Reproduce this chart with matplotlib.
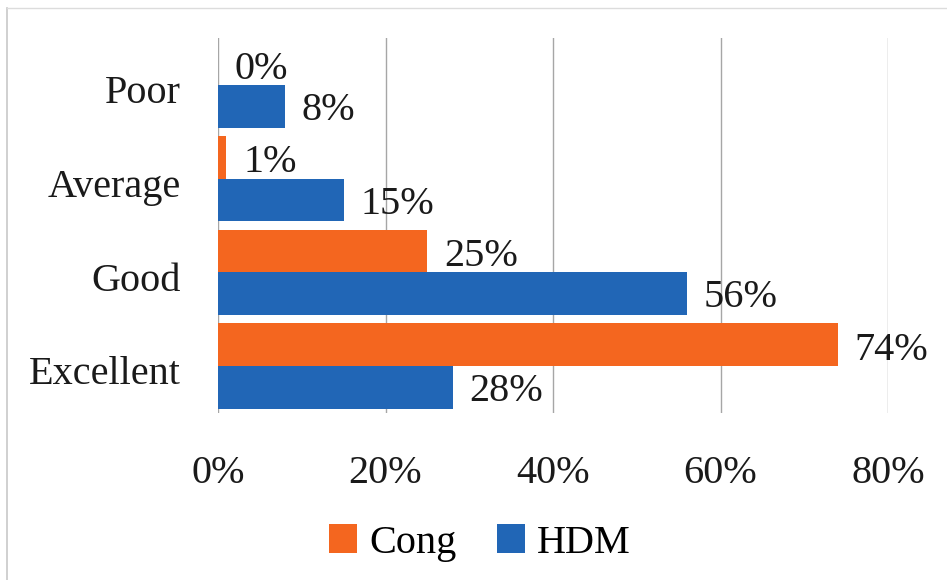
import numpy as np
import matplotlib.pyplot as plt
from matplotlib.lines import Line2D
from matplotlib.transforms import ScaledTranslation

plt.rcParams['font.family'] = ['Liberation Serif', 'DejaVu Serif']

categories = ['Poor', 'Average', 'Good', 'Excellent']
cong = [0.00, 0.01, 0.25, 0.74]
hdm = [0.08, 0.15, 0.56, 0.28]
xticks = [0.0, 0.2, 0.4, 0.6, 0.8]

c_orange = '#F4661F'
c_blue = '#2166B6'

fig = plt.figure(figsize=(9.47, 5.80), dpi=100)
ax = fig.add_axes([218 / 947, 1 - 413 / 580, 670 / 947, 375 / 580])

y = np.arange(len(categories))
h = 0.455
ax.barh(y - h / 2, cong, height=h, color=c_orange, label='Cong')
ax.barh(y + h / 2, hdm, height=h, color=c_blue, label='HDM')

fs = 29
for i in range(len(categories)):
    ax.annotate(f'{cong[i]*100:.0f}%', (cong[i], y[i] - h / 2), xytext=(12, -4),
                textcoords='offset points', va='center', ha='left', fontsize=fs, color='#1a1a1a')
    ax.annotate(f'{hdm[i]*100:.0f}%', (hdm[i], y[i] + h / 2), xytext=(12, -3),
                textcoords='offset points', va='center', ha='left', fontsize=fs, color='#1a1a1a')

ax.set_ylim(len(categories) - 0.5, -0.5)
ax.set_xlim(0, 0.8)
ax.set_yticks(y)
ax.set_yticklabels(categories, fontsize=fs, color='#1a1a1a')
ax.set_xticks(xticks)
ax.set_xticklabels([f'{v*100:.0f}%' for v in xticks], fontsize=fs, color='#1a1a1a')
ax.tick_params(axis='both', length=0)
ax.tick_params(axis='y', pad=27)
ax.tick_params(axis='x', pad=30)
ax.grid(axis='x', color='#a6a6a6', linewidth=1)
ax.set_axisbelow(True)
for s in ax.spines.values():
    s.set_visible(False)

# nudge category labels down a little
down = ScaledTranslation(0, -3 / 72, fig.dpi_scale_trans)
for lbl in ax.get_yticklabels():
    lbl.set_transform(lbl.get_transform() + down)

fig.legend(loc='center', bbox_to_anchor=(480 / 947, 1 - 543 / 580), ncol=2, frameon=False,
           fontsize=fs, handlelength=0.7, handleheight=0.7, handletextpad=0.3, columnspacing=1.0)

fig.add_artist(Line2D([7 / 947, 7 / 947], [0, 1 - 8 / 580], transform=fig.transFigure,
                      color='#c8c8c8', linewidth=1.2))
fig.add_artist(Line2D([7 / 947, 1], [1 - 8 / 580, 1 - 8 / 580], transform=fig.transFigure,
                      color='#dcdcdc', linewidth=1.0))

fig.savefig('out.png', dpi=100)
